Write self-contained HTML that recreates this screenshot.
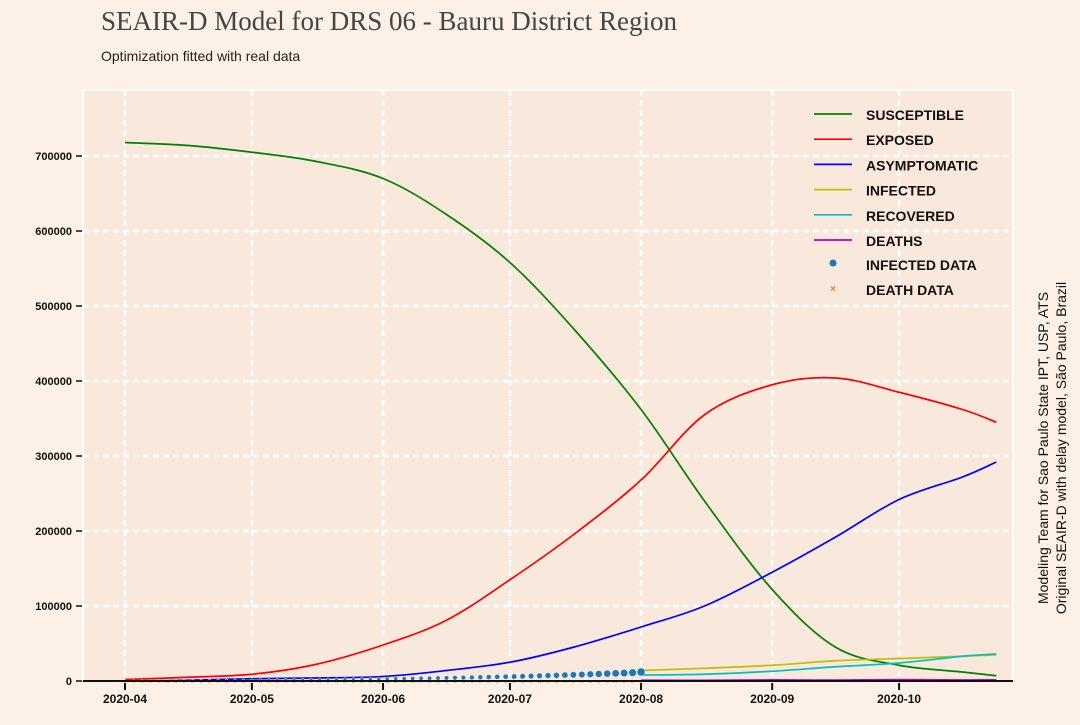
<!DOCTYPE html>
<html><head><meta charset="utf-8"><style>
body{margin:0;background:#fdf0e6;width:1080px;height:720px;overflow:hidden;font-family:"Liberation Sans",sans-serif}
</style></head><body>
<svg id="chart" width="1080" height="720" xmlns="http://www.w3.org/2000/svg">
<rect width="1080" height="720" fill="#fdf0e6"/>
<text x="101" y="30" font-family="Liberation Serif,serif" font-size="27" fill="#444">SEAIR-D Model for DRS 06 - Bauru District Region</text>
<text x="101" y="61" font-size="14" fill="#222">Optimization fitted with real data</text>
<rect x="83" y="90" width="930" height="591" fill="#f9e8dc" stroke="#fff" stroke-width="2"/>
<g id="grid"></g><g id="series"></g><g id="axes"></g>
<g id="legend" font-size="14" font-weight="bold" fill="#111"></g>
<text transform="translate(1048,448) rotate(-90)" text-anchor="middle" font-size="14" fill="#111">Modeling Team for Sao Paulo State IPT, USP, ATS</text>
<text transform="translate(1066,448) rotate(-90)" text-anchor="middle" font-size="14" fill="#111">Original SEAIR-D with delay model, São Paulo, Brazil</text>
</svg>
<script>
const days=[0,15,30,45,61,76,91,106,122,137,153,168,183,198,206];
const susceptible=[718000,714000,705000,693000,670000,622000,558000,470000,362000,240000,122000,45000,21000,12000,7000];
const exposed=[2000,5000,9000,22000,48000,81000,135000,195000,268000,355000,395000,404000,385000,362000,345000];
const asymptomatic=[0,1000,3000,4000,6000,14000,25000,45000,72000,100000,145000,192000,242000,272000,292000];
const lateDays=[122,137,153,168,183,198,206];
const infected=[14000,17000,21000,27000,30000,33000,35000];
const recovered=[8000,9000,13000,19000,24000,33000,36000];
const deaths=[1000,800,1500,1200,1800,1400,1600];
const dataDays=[0,2,4,6,8,10,12,14,16,18,20,22,24,26,28,30,32,34,36,38,40,42,44,46,48,50,52,54,56,58,60,62,64,66,68,70,72,74,76,78,80,82,84,86,88,90,92,94,96,98,100,102,104,106,108,110,112,114,116,118,120,122];
const infectedData=[100,150,200,250,300,350,400,450,500,580,650,720,800,880,950,1020,1100,1200,1300,1400,1500,1600,1700,1800,1900,2020,2150,2280,2400,2550,2700,2850,3000,3150,3300,3500,3700,3900,4100,4300,4500,4750,5000,5250,5500,5750,6000,6300,6600,6900,7200,7550,7900,8250,8600,9000,9400,9800,10200,10650,11100,12000];
const deathData=[0,2,5,8,10,12,15,18,20,25,30,35,40,45,50,55,60,65,70,75,80,85,90,95,100,105,110,115,120,125,130,135,140,145,150,155,160,165,170,175,180,185,190,195,200,205,210,215,220,225,230,235,240,245,250,255,260,265,270,275,280,290];
const yTicks=[0,100000,200000,300000,400000,500000,600000,700000];
const xTickDays=[0,30,61,91,122,153,183];
const xTickLabels=["2020-04","2020-05","2020-06","2020-07","2020-08","2020-09","2020-10"];
const X=d=>125+4.23*d, Y=v=>681-v*75/100000;
const NS="http://www.w3.org/2000/svg";
function mk(t,a,p){const e=document.createElementNS(NS,t);for(const k in a)e.setAttribute(k,a[k]);p.appendChild(e);return e;}
function path(ds,vs){const p=ds.map((d,i)=>[X(d),Y(vs[i])]);let s="M"+p[0];for(let i=0;i<p.length-1;i++){const a=p[i-1]||p[i],b=p[i],c=p[i+1],e=p[i+2]||c;s+=" C"+(b[0]+(c[0]-a[0])/6)+","+(b[1]+(c[1]-a[1])/6)+" "+(c[0]-(e[0]-b[0])/6)+","+(c[1]-(e[1]-b[1])/6)+" "+c;}return s;}
const g=document.getElementById('grid'),s=document.getElementById('series'),ax=document.getElementById('axes'),lg=document.getElementById('legend');
yTicks.forEach(v=>{if(v>0){const l=mk('line',{x1:83,x2:1013,y1:Y(v),y2:Y(v),stroke:'#fff','stroke-width':2.5,'stroke-dasharray':'6,4'},g);}
 const t=mk('text',{x:72,y:Y(v)+4,'text-anchor':'end','font-size':11,'font-weight':'bold',fill:'#111'},ax);t.textContent=v;
 mk('line',{x1:76,x2:82,y1:Y(v),y2:Y(v),stroke:'#111','stroke-width':1.5},ax);});
xTickDays.forEach((d,i)=>{const l=mk('line',{x1:X(d),x2:X(d),y1:90,y2:681,stroke:'#fff','stroke-width':2.5,'stroke-dasharray':'6,4'},g);
 mk('line',{x1:X(d),x2:X(d),y1:683,y2:690,stroke:'#111','stroke-width':2},ax);
 const t=mk('text',{x:X(d),y:703,'text-anchor':'middle','font-size':12,'font-weight':'bold',fill:'#111'},ax);t.textContent=xTickLabels[i];});
mk('line',{x1:83,x2:1013,y1:681,y2:681,stroke:'#111','stroke-width':2},ax);
const lines=[["susceptible",days,susceptible,"#008000"],["exposed",days,exposed,"#ff0000"],["asymptomatic",days,asymptomatic,"#0000ff"],["infected",lateDays,infected,"#bfbf00"],["recovered",lateDays,recovered,"#00bfbf"],["deaths",lateDays,deaths,"#bf00bf"]];
dataDays.forEach((d,i)=>{const c=mk('text',{x:X(d),y:Y(deathData[i])+3,'text-anchor':'middle','font-size':7,fill:'#ff7f0e'},s);c.textContent='×';});
lines.forEach(([n,d,v,c])=>{const p=mk('path',{d:path(d,v),fill:'none',stroke:c,'stroke-width':1.7},s);});
dataDays.forEach((d,i)=>{const c=mk('circle',{cx:X(d),cy:Y(infectedData[i]),r:1.3+infectedData[i]/12000*2.7,fill:'#1f77b4',stroke:'#fff','stroke-width':0.4},s);});
const names=["SUSCEPTIBLE","EXPOSED","ASYMPTOMATIC","INFECTED","RECOVERED","DEATHS"];
names.forEach((n,i)=>{const y=114+i*25.2;mk('line',{x1:814,x2:852,y1:y,y2:y,stroke:lines[i][3],'stroke-width':1.7},lg);const t=mk('text',{x:866,y:y+6},lg);t.textContent=n;});
mk('circle',{cx:833,cy:263,r:3.5,fill:'#1f77b4'},lg);
let t=mk('text',{x:866,y:270},lg);t.textContent="INFECTED DATA";
t=mk('text',{x:833,y:292,'text-anchor':'middle','font-size':10,fill:'#ff7f0e'},lg);t.textContent='×';
t=mk('text',{x:866,y:295},lg);t.textContent="DEATH DATA";
</script>
</body></html>
